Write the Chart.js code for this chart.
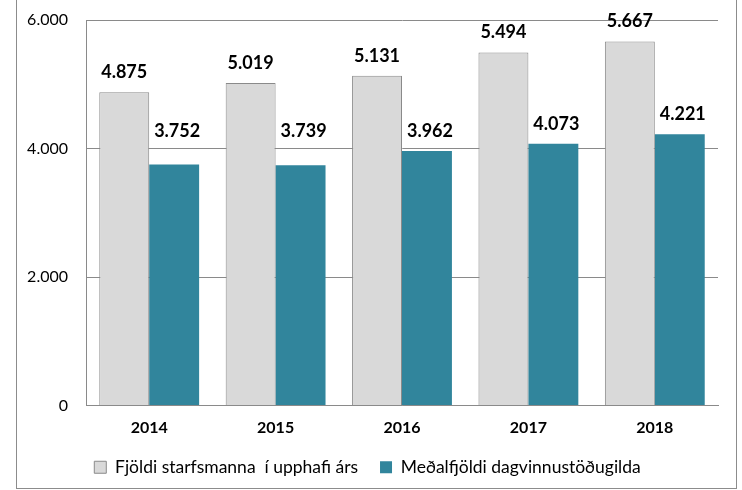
<!DOCTYPE html>
<html>
<head>
<meta charset="utf-8">
<script src="https://cdn.jsdelivr.net/npm/chart.js@4"></script>
<style>
  html, body { margin: 0; padding: 0; background: #fff; }
  #ramma {
    position: absolute; left: 16px; top: -1px;
    width: 719px; height: 488px;
    border: 1px solid #8c8c8c;
  }
  canvas { display: block; }
</style>
</head>
<body>
<div id="ramma"><canvas id="graf" width="719" height="488"></canvas></div>
<script>
const ar = ["2014", "2015", "2016", "2017", "2018"];
const starfsmenn = [4875, 5019, 5131, 5494, 5667];
const stodugildi = [3752, 3739, 3962, 4073, 4221];
const heiti = ["Fjöldi starfsmanna  í upphafi árs", "Meðalfjöldi dagvinnustöðugilda"];
const yTikk = [0, 2000, 4000, 6000];

const LETUR = "Lato, 'Open Sans', sans-serif";

function sniðTala(v) {
  return v.toLocaleString("de-DE");
}

// gildi ofan a sulum, lægri sulan heldur merkinu ofan við 4.000 línuna
const gildiPlugin = {
  id: "gildi",
  afterDatasetsDraw(chart) {
    const ctx = chart.ctx;
    const lina = chart.scales.y.getPixelForValue(4000);
    ctx.save();
    ctx.font = "bold 18px " + LETUR;
    ctx.fillStyle = "#000";
    ctx.textAlign = "center";
    ctx.textBaseline = "middle";
    chart.data.datasets.forEach((ds, i) => {
      const meta = chart.getDatasetMeta(i);
      meta.data.forEach((bar, j) => {
        let y = bar.y - 20;
        if (i === 1) y = Math.min(y, lina - 17);
        ctx.fillText(sniðTala(ds.data[j]), bar.x + (i === 1 ? 3 : 0), y);
      });
    });
    ctx.restore();
  },
};

new Chart(document.getElementById("graf").getContext("2d"), {
  type: "bar",
  data: {
    labels: ar,
    datasets: [
      {
        label: heiti[0],
        data: starfsmenn,
        backgroundColor: "#d9d9d9",
        borderColor: "#8a8a8a",
        borderWidth: 1,
        borderSkipped: "bottom",
        categoryPercentage: 0.79,
        barPercentage: 1,
      },
      {
        label: heiti[1],
        data: stodugildi,
        backgroundColor: "#31859c",
        borderWidth: 0,
        categoryPercentage: 0.79,
        barPercentage: 1,
      },
    ],
  },
  options: {
    responsive: false,
    animation: false,
    layout: { padding: { top: 20, right: 18, left: 0, bottom: 2 } },
    plugins: {
      tooltip: { enabled: false },
      legend: {
        position: "bottom",
        labels: {
          font: { family: LETUR, size: 17.5 },
          color: "#000",
          boxWidth: 12,
          boxHeight: 12,
          padding: 22,
        },
      },
    },
    scales: {
      x: {
        grid: { display: false, drawTicks: false },
        border: { color: "#8a8a8a" },
        ticks: {
          font: { family: LETUR, size: 16, weight: "bold" },
          color: "#000",
          padding: 13,
        },
        afterFit(s) { s.height = 31; },
      },
      y: {
        min: 0,
        max: 6000,
        afterBuildTicks(s) { s.ticks = yTikk.map((v) => ({ value: v })); },
        grid: { color: "#8a8a8a", drawTicks: false },
        border: { color: "#8a8a8a" },
        ticks: {
          font: { family: LETUR, size: 16 },
          color: "#000",
          padding: 18,
          callback: (v) => sniðTala(v),
        },
        afterFit(s) {
          s.width = 69;
          s.paddingTop = 0;
          s.paddingBottom = 0;
        },
      },
    },
  },
  plugins: [gildiPlugin],
});
</script>
</body>
</html>
